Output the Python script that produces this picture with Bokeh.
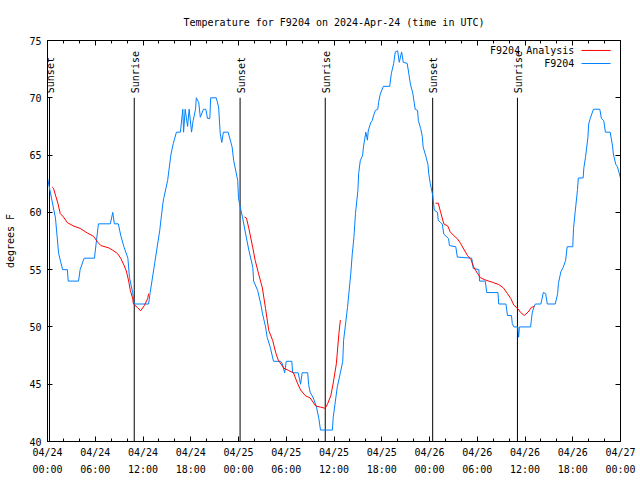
import math
from bokeh.plotting import figure
from bokeh.models import Range1d, LinearAxis, FixedTicker
from bokeh.core.properties import value
from bokeh.embed import file_html
from bokeh.resources import INLINE

# ---------------- data (hours since 2024-04-24 00:00 UTC) ----------------
title_text = "Temperature for F9204 on 2024-Apr-24 (time in UTC)"
y_label = "degrees F"
series_names = ["F9204 Analysis", "F9204"]

tick_hours = [0, 6, 12, 18, 24, 30, 36, 42, 48, 54, 60, 66, 72]
tick_dates = ["04/24", "04/24", "04/24", "04/24", "04/25", "04/25", "04/25",
              "04/25", "04/26", "04/26", "04/26", "04/26", "04/27"]
tick_times = ["00:00", "06:00", "12:00", "18:00", "00:00", "06:00", "12:00",
              "18:00", "00:00", "06:00", "12:00", "18:00", "00:00"]
minor_hours = list(range(0, 73, 2))
y_ticks = [40, 45, 50, 55, 60, 65, 70, 75]

sun_hours = [0.25, 10.9, 24.2, 34.9, 48.4, 59.05]
sun_labels = ["Sunset", "Sunrise", "Sunset", "Sunrise", "Sunset", "Sunrise"]

obs_hours = [0.0, 1.0, 1.4, 1.9, 2.5, 2.6, 3.9, 4.1, 4.6, 5.9, 6.4, 7.9, 8.2, 8.4,
             8.9, 9.2, 9.6, 10.1, 10.3, 10.7, 10.9, 12.7, 12.9, 14.1, 14.5, 14.6,
             15.1, 15.5, 15.8, 16.2, 16.7, 17.0, 17.1, 17.3, 17.6, 17.8, 18.1, 18.3,
             18.6, 18.7, 19.0, 19.2, 19.6, 19.9, 20.1, 20.4, 20.5, 21.2, 21.5, 21.7,
             21.9, 22.1, 22.7, 23.2, 23.4, 23.9, 24.0, 24.3, 24.5, 24.9, 25.3, 25.8,
             25.9, 26.4, 26.8, 27.0, 27.4, 27.6, 28.0, 28.4, 29.3, 29.5, 29.8, 30.0,
             30.7, 30.8, 31.5, 31.8, 32.0, 32.7, 32.8, 33.0, 33.4, 33.8, 34.1, 34.3,
             35.8, 35.9, 36.4, 36.8, 37.1, 37.2, 37.7, 38.1, 38.3, 38.5, 38.7, 39.0,
             39.1, 39.3, 39.6, 39.7, 40.0, 40.2, 40.3, 40.6, 40.8, 41.0, 41.2, 41.5,
             41.6, 41.8, 42.2, 43.0, 43.2, 43.5, 43.7, 44.0, 44.2, 44.5, 44.7, 45.2,
             45.4, 45.6, 45.9, 46.2, 46.5, 46.6, 46.9, 47.1, 47.2, 47.5, 47.8, 47.9,
             48.1, 48.4, 48.6, 49.0, 49.1, 49.4, 49.6, 49.8, 50.4, 50.5, 51.3, 51.5,
             53.3, 53.4, 53.5, 54.2, 54.3, 55.0, 55.2, 56.6, 56.7, 57.6, 57.8, 58.3,
             58.4, 58.6, 59.1, 59.2, 59.3, 60.7, 60.9, 61.1, 61.3, 62.0, 62.3, 62.6,
             62.8, 63.8, 64.1, 64.2, 64.5, 64.8, 65.1, 65.3, 66.0, 66.1, 66.3, 66.6,
             66.7, 67.3, 67.4, 67.6, 67.9, 68.0, 68.2, 68.6, 69.4, 69.6, 69.9, 70.1,
             70.7, 71.0, 71.1, 71.4, 71.6, 71.8, 72.0]
obs_temps = [63, 59.5, 56.4, 55, 55, 54, 54, 55, 56, 56, 59, 59, 60, 59,
             59, 58, 57, 56, 54.3, 53, 52, 52, 53, 58.4, 60.8, 61.2,
             62.8, 65, 66, 67, 67, 69, 67, 69, 67.5, 69, 67, 68,
             69, 70, 69.6, 68.3, 69, 69, 68.2, 68.2, 70, 70, 69.2, 66.9,
             66.1, 67, 67, 65.7, 64.5, 62.8, 61.2, 60.2, 59.6, 58.1, 56.7, 55.2,
             54, 53.2, 52, 51.2, 50, 49.1, 48.2, 47, 47, 46.8, 46, 47,
             47, 46, 46, 45, 46, 46, 45, 44.3, 43.8, 43, 42, 41,
             41, 42.1, 44.7, 46, 47, 48.8, 51.7, 54.6, 56.4, 57.8, 59.9, 61.9,
             63.4, 64.5, 65, 65.7, 67, 66.3, 67.1, 67.8, 68, 68.5, 68.9, 69,
             69.6, 70.3, 71, 71, 72.1, 73, 74, 74.1, 73.1, 74, 73.1, 73,
             72.1, 71.2, 70.4, 69, 68.9, 68, 67.3, 66.6, 65.7, 65, 64.2, 63.4,
             62.5, 61.5, 60.2, 60, 59.3, 59.1, 59, 58.1, 57.7, 57.1, 57, 56.1,
             56, 55.6, 55.1, 55, 54, 54, 53, 53, 52, 52, 51, 51,
             50.3, 50, 50, 49.1, 50, 50, 51.2, 51.7, 52, 52, 53, 52.9,
             52, 52, 52.9, 53.8, 54.8, 55.2, 55.8, 57, 57, 58.6, 60, 62,
             63, 63, 63.9, 64.8, 66.5, 67.7, 68.2, 69, 69, 68.2, 68, 67,
             67, 65.8, 65.1, 64.2, 64, 63.5, 63]

ana_hours = [0.6, 0.75, 1.3, 1.6, 2.0, 2.5, 3.3, 4.1, 5.0, 5.8, 6.3, 6.7, 7.7, 8.2,
             8.8, 9.2, 9.6, 9.9, 10.2, 10.4, 10.7, 10.8, 11.3, 11.7, 12.2, 12.6, 12.7,
             float("nan"),
             24.75, 25.0, 25.3, 25.8, 26.1, 26.5, 27.0, 27.4, 27.8, 28.3, 28.7, 29.0,
             29.7, 30.3, 30.9, 31.4, 31.8, 32.4, 33.0, 33.7, 34.3, 34.9, 35.2, 35.6,
             35.9, 36.3, 36.6, 36.8,
             float("nan"),
             48.75, 49.1, 49.4, 49.8, 50.3, 50.6, 51.0, 51.5, 51.9, 52.3, 52.8, 53.2,
             53.5, 54.0, 54.4, 55.0, 55.9, 56.7, 57.3, 57.8, 58.2, 58.6, 59.1, 59.4,
             59.9, 60.4, 60.8, 61.2]
ana_temps = [62.2, 62.1, 60.8, 59.9, 59.6, 59.1, 58.8, 58.6, 58.2, 57.9, 57.4, 57.1, 56.9, 56.7,
             56.4, 56, 55.4, 54.9, 54, 53.2, 52.5, 52, 51.7, 51.4, 51.9, 52.5, 52.9,
             float("nan"),
             59.6, 59.5, 58.6, 56.9, 55.8, 54.7, 53.4, 51.6, 49.7, 48.8, 47.7, 47.1,
             46.4, 46.2, 46.0, 45.1, 44.5, 44.0, 43.8, 43.1, 43.0, 42.9, 43.3, 44,
             45.1, 46.8, 49.3, 50.6,
             float("nan"),
             60.8, 60.8, 60, 59, 58.8, 58.3, 58, 57.7, 57.3, 56.8, 56.2, 55.9,
             55.3, 54.7, 54.3, 54.1, 53.9, 53.7, 53.4, 52.9, 52.5, 51.9, 51.6, 51.3,
             51.0, 51.3, 51.7, 51.8]

# ---------------- styling ----------------
FONT = value("DejaVu Sans Mono")
FONT_NAME = "DejaVu Sans Mono"
FS = "10px"
RED = "#ff0000"
BLUE = "#0080ff"

p = figure(width=640, height=480, output_backend="svg", toolbar_location=None,
           x_range=Range1d(0, 72), y_range=Range1d(40, 75),
           min_border_left=47, min_border_right=20, min_border_top=40,
           min_border_bottom=39, x_axis_type=None, y_axis_type=None)
p.background_fill_color = "white"
p.border_fill_color = "white"
p.outline_line_color = "black"
p.outline_line_width = 1
p.xgrid.visible = False
p.ygrid.visible = False

p.title.text = title_text
p.title.align = "center"
p.title.text_font = FONT_NAME
p.title.text_font_size = FS
p.title.text_font_style = "normal"
p.title.text_color = "black"
p.title.standoff = 25

xt = FixedTicker(ticks=tick_hours, minor_ticks=minor_hours)
yt = FixedTicker(ticks=y_ticks, minor_ticks=[])


def style_axis(ax):
    ax.axis_line_color = "black"
    ax.major_tick_in = 5
    ax.major_tick_out = 0
    ax.minor_tick_in = 3
    ax.minor_tick_out = 0
    ax.major_tick_line_color = "black"
    ax.minor_tick_line_color = "black"
    ax.major_label_text_font = FONT_NAME
    ax.major_label_text_font_size = FS
    ax.major_label_text_color = "black"


# bottom: dates
xb = LinearAxis(ticker=xt)
style_axis(xb)
xb.major_label_overrides = {h: d for h, d in zip(tick_hours, tick_dates)}
xb.major_label_standoff = 5
p.add_layout(xb, "below")

# bottom second row: times
xb2 = LinearAxis(ticker=xt)
style_axis(xb2)
xb2.axis_line_color = None
xb2.major_tick_line_color = None
xb2.minor_tick_line_color = None
xb2.major_tick_in = 0
xb2.minor_tick_in = 0
xb2.major_label_overrides = {h: t for h, t in zip(tick_hours, tick_times)}
xb2.major_label_standoff = 3
p.add_layout(xb2, "below")

# top mirror
xtop = LinearAxis(ticker=xt)
style_axis(xtop)
xtop.major_label_overrides = {h: "" for h in tick_hours}
p.add_layout(xtop, "above")

# left
yl = LinearAxis(ticker=yt)
style_axis(yl)
yl.minor_tick_line_color = None
yl.major_label_standoff = 6
yl.axis_label = y_label
yl.axis_label_text_font = FONT_NAME
yl.axis_label_text_font_size = FS
yl.axis_label_text_font_style = "normal"
yl.axis_label_text_color = "black"
yl.axis_label_standoff = 10
p.add_layout(yl, "left")

# right mirror
yr = LinearAxis(ticker=yt)
style_axis(yr)
yr.minor_tick_line_color = None
yr.major_label_overrides = {v: "" for v in y_ticks}
p.add_layout(yr, "right")

# sunrise / sunset markers
p.segment(x0=sun_hours, y0=[40] * len(sun_hours), x1=sun_hours, y1=[70] * len(sun_hours),
          line_color="black", line_width=1)
p.text(x=sun_hours, y=[70.4] * len(sun_hours), text=sun_labels, angle=math.pi / 2,
       text_align="left", text_baseline="middle", text_font=FONT, text_font_size=FS,
       text_color="black", x_offset=1)

# data lines
p.line(obs_hours, obs_temps, line_color=BLUE, line_width=1)
p.line(ana_hours, ana_temps, line_color=RED, line_width=1)

# gnuplot-style key (label left, sample right)
key_y = [74.13, 72.99]
p.text(x=[66.2, 66.2], y=key_y, text=series_names, text_align="right",
       text_baseline="middle", text_font=FONT, text_font_size=FS, text_color="black")
p.segment(x0=[67.1, 67.1], y0=key_y, x1=[70.75, 70.75], y1=key_y,
          line_color=[RED, BLUE], line_width=1)

open("out.html", "w").write(file_html(p, INLINE))
